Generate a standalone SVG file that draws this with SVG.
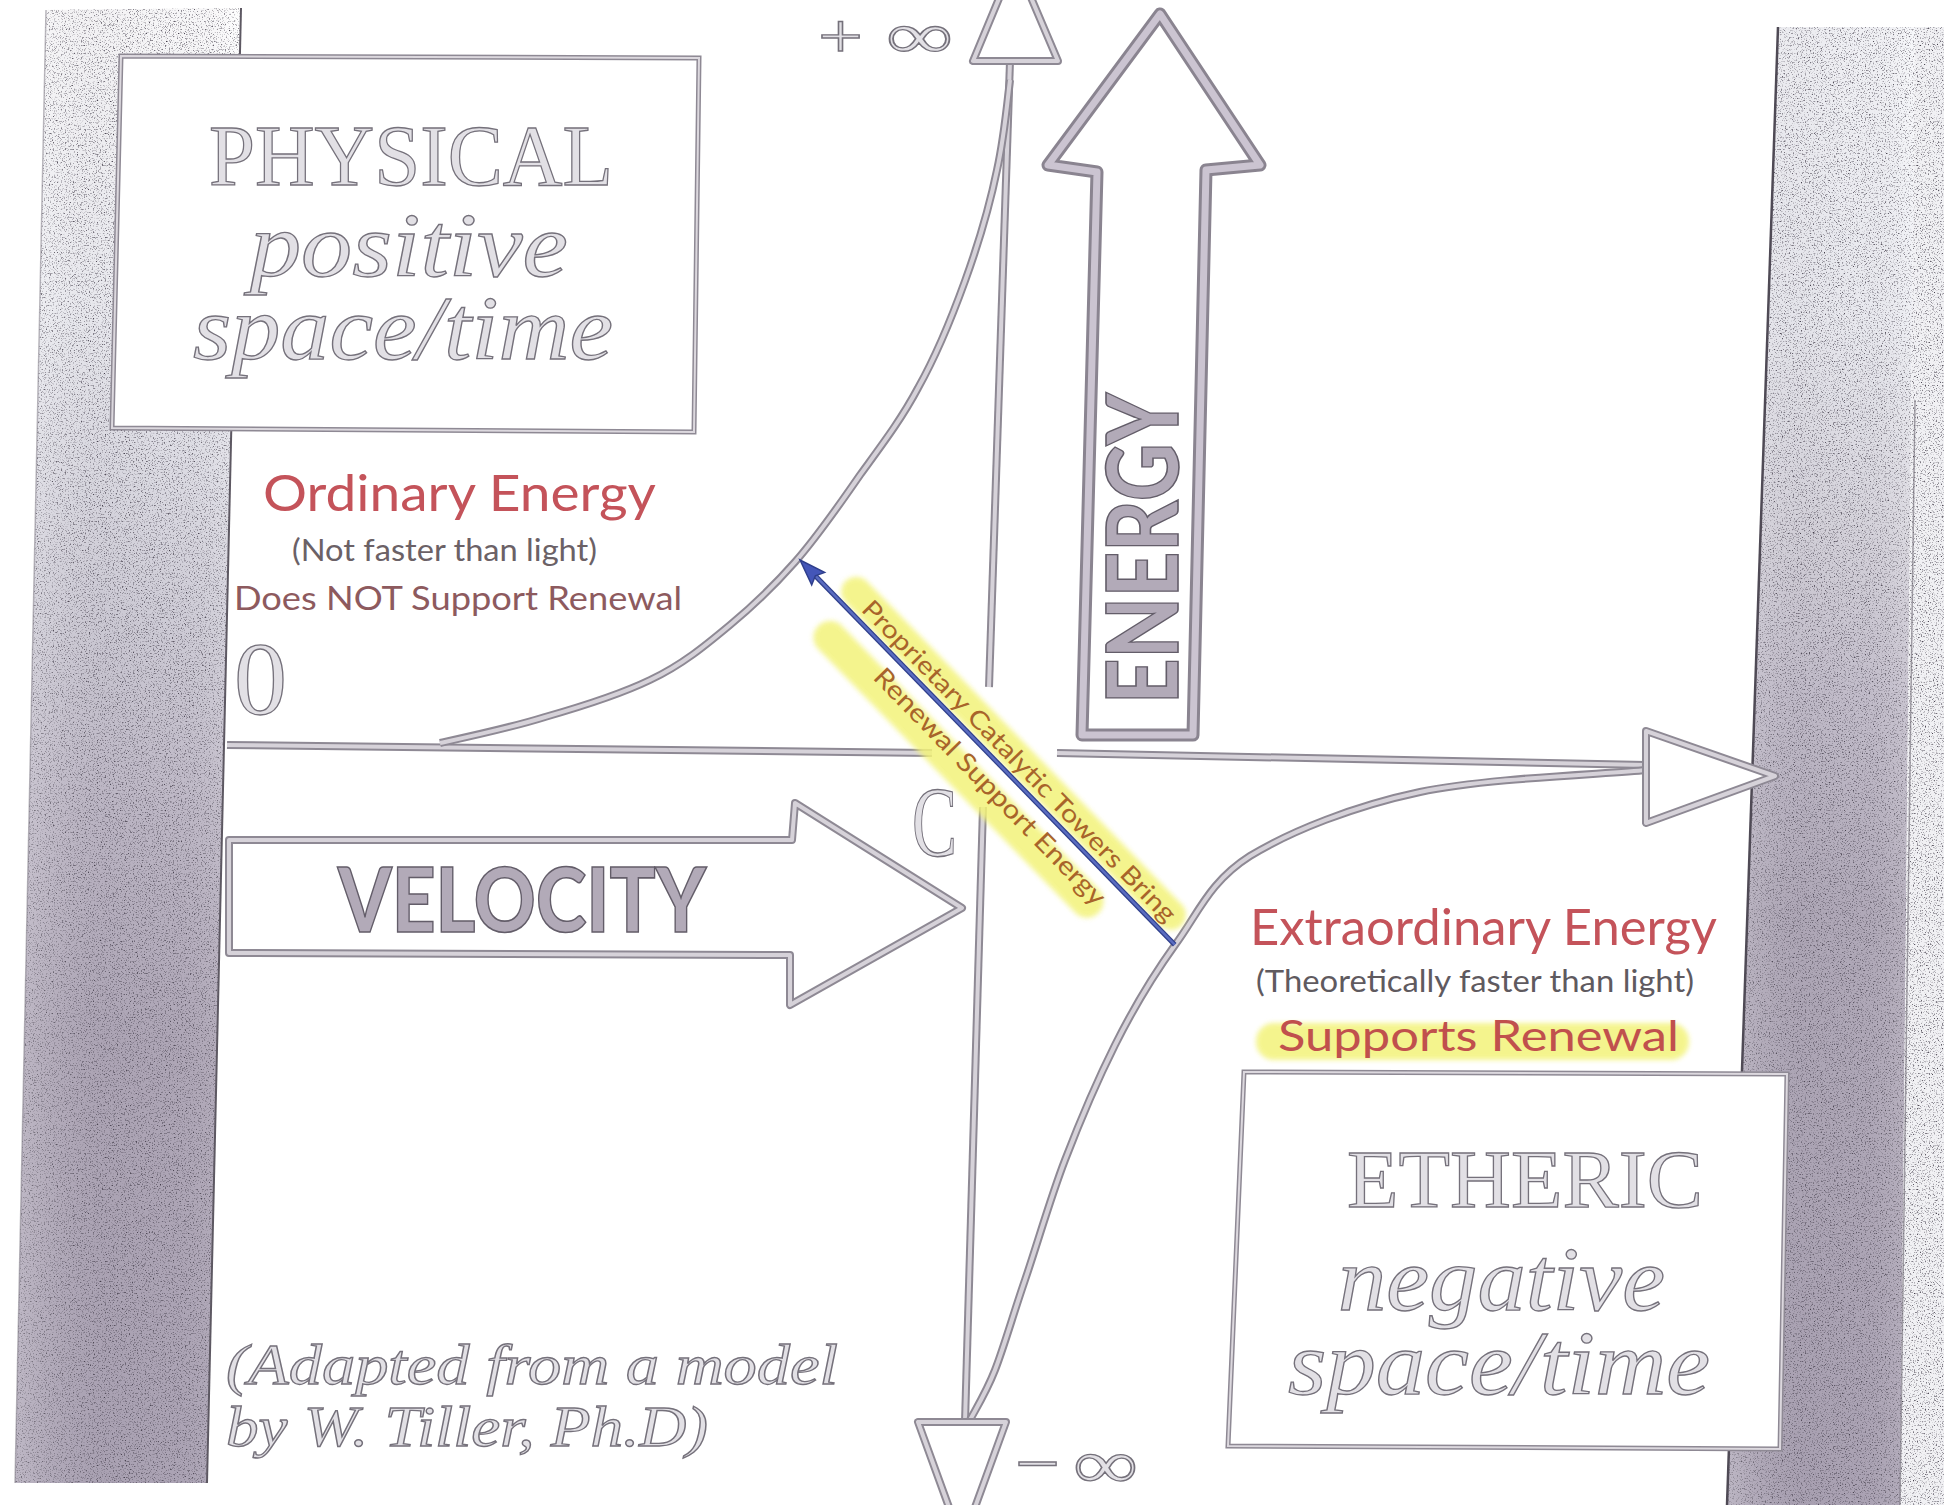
<svg xmlns="http://www.w3.org/2000/svg" width="1944" height="1505" viewBox="0 0 1944 1505">
<defs>
<style>
.bo{fill:none;stroke:#8e8994;stroke-width:8;stroke-linejoin:round}
.bi{fill:none;stroke:#d6d2d9;stroke-width:4;stroke-linejoin:round}
.ho{fill:#fff;stroke:#8e8994;stroke-width:8;stroke-linejoin:round}
.xo{fill:#fff;stroke:#8e8994;stroke-width:5}
.xi{fill:none;stroke:#dcd8de;stroke-width:2}
.eo{fill:none;stroke:#8a8490;stroke-width:13;stroke-linejoin:round}
.ei{fill:none;stroke:#cbc4d1;stroke-width:7;stroke-linejoin:round}
.sh{font-family:"Liberation Serif","DejaVu Serif",serif;fill:#e2e0e5;stroke:#75717b;stroke-width:1.3}
.si{font-style:italic}
.bb{font-family:Lato,"Open Sans",sans-serif;font-weight:900;fill:#b2aab8;stroke:#635d69;stroke-width:1.6}
.lb{font-family:Lato,"Open Sans",sans-serif}
.hl{fill:#f3f37a;opacity:0.85}
</style>
<linearGradient id="gL" x1="0" y1="0" x2="0" y2="1">
<stop offset="0" stop-color="#ffffff"/>
<stop offset="0.2" stop-color="#f2f3f7"/>
<stop offset="0.3" stop-color="#e3e3ea"/>
<stop offset="0.42" stop-color="#d2d0da"/>
<stop offset="0.55" stop-color="#c0bac8"/>
<stop offset="0.7" stop-color="#b1a9b9"/>
<stop offset="1" stop-color="#aea6b7"/>
</linearGradient>
<linearGradient id="gR" x1="0" y1="0" x2="0" y2="1">
<stop offset="0" stop-color="#f7f8fb"/>
<stop offset="0.2" stop-color="#eeeff4"/>
<stop offset="0.35" stop-color="#d8d6de"/>
<stop offset="0.45" stop-color="#c6c1ce"/>
<stop offset="0.6" stop-color="#b3acbb"/>
<stop offset="1" stop-color="#ada5b6"/>
</linearGradient>
<linearGradient id="gH" x1="0" y1="0" x2="1" y2="0">
<stop offset="0" stop-color="#ffffff" stop-opacity="0.2"/>
<stop offset="0.4" stop-color="#6e6478" stop-opacity="0.08"/>
<stop offset="0.7" stop-color="#6e6478" stop-opacity="0.05"/>
<stop offset="1" stop-color="#ffffff" stop-opacity="0.15"/>
</linearGradient>
<filter id="grain" x="0%" y="0%" width="100%" height="100%" color-interpolation-filters="sRGB">
<feTurbulence type="fractalNoise" baseFrequency="0.75" numOctaves="2" seed="7" result="n"/>
<feColorMatrix in="n" type="matrix" values="0 0 0 0 0.25  0 0 0 0 0.23  0 0 0 0 0.28  3 0 0 0 -1.62" result="s"/>
<feComposite in="s" in2="SourceGraphic" operator="in" result="s2"/>
<feMerge><feMergeNode in="SourceGraphic"/><feMergeNode in="s2"/></feMerge>
</filter>
<filter id="soft" x="-10%" y="-50%" width="120%" height="200%"><feGaussianBlur stdDeviation="2.5"/></filter>
</defs>

<rect width="1944" height="1505" fill="#ffffff"/>

<g id="bars">
<g filter="url(#grain)">
<polygon points="46,10 241,8 207,1483 15,1483" fill="url(#gL)"/>
<polygon points="1778,27 1915,27 1900,1505 1727,1505" fill="url(#gR)"/>
<polygon points="1915,27 1944,27 1944,1505 1900,1505" fill="#f1f1f4"/>
</g>
<polygon points="46,10 241,8 207,1483 15,1483" fill="url(#gH)"/>
<polygon points="1778,27 1915,27 1900,1505 1727,1505" fill="url(#gH)"/>
<line x1="241" y1="8" x2="207" y2="1483" stroke="#5d5862" stroke-width="2"/>
<line x1="46" y1="10" x2="15" y2="1483" stroke="#7a7580" stroke-width="1.5" opacity="0.5"/>
<line x1="1778" y1="27" x2="1727" y2="1505" stroke="#4f4a55" stroke-width="2.5"/>
<line x1="1915" y1="400" x2="1900" y2="1505" stroke="#6a6570" stroke-width="1.5" opacity="0.6"/>
</g>

<g id="physical-box">
<polygon class="xo" points="121,56 699,58 694,432 112,428"/>
<polygon class="xi" points="121,56 699,58 694,432 112,428"/>
<text class="sh" x="209" y="185" font-size="86" textLength="404" lengthAdjust="spacingAndGlyphs">PHYSICAL</text>
<text class="sh si" x="250" y="276" font-size="90" textLength="318" lengthAdjust="spacingAndGlyphs">positive</text>
<text class="sh si" x="193" y="359" font-size="90" textLength="420" lengthAdjust="spacingAndGlyphs">space/time</text>
</g>

<g id="etheric-box">
<polygon class="xo" points="1244,1072 1787,1074 1780,1449 1228,1446"/>
<polygon class="xi" points="1244,1072 1787,1074 1780,1449 1228,1446"/>
<text class="sh" x="1347" y="1207" font-size="83" textLength="356" lengthAdjust="spacingAndGlyphs">ETHERIC</text>
<text class="sh si" x="1338" y="1310" font-size="90" textLength="327" lengthAdjust="spacingAndGlyphs">negative</text>
<text class="sh si" x="1288" y="1394" font-size="90" textLength="422" lengthAdjust="spacingAndGlyphs">space/time</text>
</g>

<g id="connectors">
<path id="axis-h1" class="bo" d="M227,745 L932,753"/>
<path class="bi" d="M227,745 L932,753"/>
<path id="axis-h2" class="bo" d="M1057,753 L1646,765"/>
<path class="bi" d="M1057,753 L1646,765"/>
<path id="axis-v1" class="bo" d="M1010,61 L989,687"/>
<path class="bi" d="M1010,61 L989,687"/>
<path id="axis-v2" class="bo" d="M983,807 L965,1422"/>
<path class="bi" d="M983,807 L965,1422"/>
<path id="curve-upper" class="bo" d="M440,743 C458,739 510,728 545,717 C580,707 619,695 650,680 C682,665 706,645 730,625 C754,605 773,587 795,562 C817,537 840,504 860,475 C881,446 901,420 918,388 C936,356 952,317 965,281 C978,245 990,204 997,170 C1004.5,136.5 1008,95 1010,80"/>
<path class="bi" d="M440,743 C458,739 510,728 545,717 C580,707 619,695 650,680 C682,665 706,645 730,625 C754,605 773,587 795,562 C817,537 840,504 860,475 C881,446 901,420 918,388 C936,356 952,317 965,281 C978,245 990,204 997,170 C1004.5,136.5 1008,95 1010,80"/>
<path id="curve-lower" class="bo" d="M1646,770 C1608,774 1486,778 1420,792 C1354,806 1291,831 1250,856 C1209,882 1198,914 1175,945 C1152,977 1133,1009 1115,1045 C1097,1081 1080,1121 1065,1160 C1050,1199 1037,1245 1025,1280 C1013,1315 1004,1347 995,1370 C986,1393 974,1412 970,1420"/>
<path class="bi" d="M1646,770 C1608,774 1486,778 1420,792 C1354,806 1291,831 1250,856 C1209,882 1198,914 1175,945 C1152,977 1133,1009 1115,1045 C1097,1081 1080,1121 1065,1160 C1050,1199 1037,1245 1025,1280 C1013,1315 1004,1347 995,1370 C986,1393 974,1412 970,1420"/>
<polygon id="head-top" class="ho" points="973,61 1058,61 1015,-40"/>
<polygon class="bi" points="973,61 1058,61 1015,-40"/>
<polygon id="head-bottom" class="ho" points="918,1422 1006,1422 962,1543"/>
<polygon class="bi" points="918,1422 1006,1422 962,1543"/>
<polygon id="head-right" class="ho" points="1646,731 1775,776 1646,823"/>
<polygon class="bi" points="1646,731 1775,776 1646,823"/>
<g id="catalytic-arrow" transform="translate(800,560) rotate(45.75)">
<rect class="hl" x="47" y="-33" width="481" height="30" rx="15" filter="url(#soft)"/>
<rect class="hl" x="60" y="16" width="401" height="33" rx="16" filter="url(#soft)"/>
<line x1="18" y1="0" x2="537" y2="0" stroke="#2f3f8c" stroke-width="5"/>
<line x1="18" y1="0" x2="537" y2="0" stroke="#5a6cc0" stroke-width="2.5"/>
<polygon points="0,0 26,-9 22,0 26,9" fill="#4456b8" stroke="#2f3f8c" stroke-width="1.5"/>
<text class="lb" x="78" y="-8" font-size="25" fill="#a8642a" textLength="438" lengthAdjust="spacingAndGlyphs">Proprietary Catalytic Towers Bring</text>
<text class="lb" x="135" y="31" font-size="26" fill="#a8642a" textLength="320" lengthAdjust="spacingAndGlyphs">Renewal Support Energy</text>
</g>
</g>

<g id="velocity-arrow">
<polygon class="ho" points="229,840 792,840 795,803 962,908 790,1005 790,955 229,953"/>
<polygon class="bi" points="229,840 792,840 795,803 962,908 790,1005 790,955 229,953"/>
<text class="bb" x="338" y="932" font-size="90" textLength="368" lengthAdjust="spacingAndGlyphs">VELOCITY</text>
</g>

<g id="energy-arrow">
<polygon class="eo" points="1160,14 1260,165 1206,170 1193,735 1082,735 1097,172 1048,165" fill="#fff"/>
<polygon class="ei" points="1160,14 1260,165 1206,170 1193,735 1082,735 1097,172 1048,165"/>
<text class="bb" transform="translate(1178,704) rotate(-90)" x="0" y="0" font-size="100" textLength="311" lengthAdjust="spacingAndGlyphs">ENERGY</text>
</g>

<g id="axis-labels">
<text class="sh" x="818" y="58" font-size="64" textLength="45" lengthAdjust="spacingAndGlyphs">+</text>
<text class="sh" x="886" y="58" font-size="66" textLength="67" lengthAdjust="spacingAndGlyphs">∞</text>
<text class="sh" x="1015" y="1487" font-size="70" textLength="45" lengthAdjust="spacingAndGlyphs">−</text>
<text class="sh" x="1073" y="1488" font-size="70" textLength="65" lengthAdjust="spacingAndGlyphs">∞</text>
<text class="sh" x="234" y="714" font-size="104" textLength="53" lengthAdjust="spacingAndGlyphs">0</text>
<text class="sh" x="912" y="855" font-size="100" textLength="45" lengthAdjust="spacingAndGlyphs">C</text>
</g>

<g id="ordinary-label">
<text class="lb" x="263" y="511" font-size="50" fill="#c4535a" textLength="393" lengthAdjust="spacingAndGlyphs">Ordinary Energy</text>
<text class="lb" x="292" y="561" font-size="30" fill="#6b6166" textLength="305" lengthAdjust="spacingAndGlyphs">(Not faster than light)</text>
<text class="lb" x="234" y="610" font-size="33" fill="#8d5a5e" textLength="448" lengthAdjust="spacingAndGlyphs">Does NOT Support Renewal</text>
</g>

<g id="extraordinary-label">
<rect class="hl" x="1256" y="1023" width="433" height="37" rx="18" filter="url(#soft)"/>
<text class="lb" x="1250" y="945" font-size="50" fill="#c4535a" textLength="467" lengthAdjust="spacingAndGlyphs">Extraordinary Energy</text>
<text class="lb" x="1256" y="992" font-size="30" fill="#5f5a5f" textLength="438" lengthAdjust="spacingAndGlyphs">(Theoretically faster than light)</text>
<text class="lb" x="1278" y="1051" font-size="43" fill="#c0504d" textLength="401" lengthAdjust="spacingAndGlyphs">Supports Renewal</text>
</g>

<g id="credit">
<text class="sh si" x="226" y="1384" font-size="56" textLength="612" lengthAdjust="spacingAndGlyphs">(Adapted from a model</text>
<text class="sh si" x="226" y="1446" font-size="56" textLength="482" lengthAdjust="spacingAndGlyphs">by W. Tiller, Ph.D)</text>
</g>
</svg>
